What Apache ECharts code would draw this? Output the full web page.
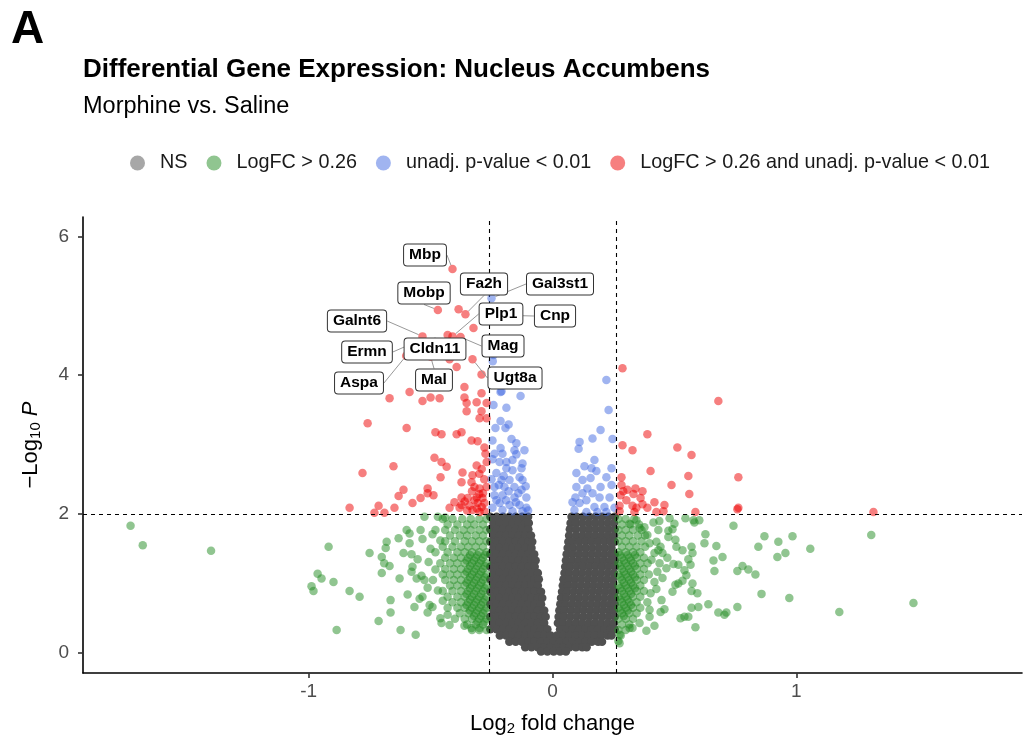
<!DOCTYPE html>
<html>
<head>
<meta charset="utf-8">
<script src="https://cdn.jsdelivr.net/npm/echarts@6/dist/echarts.min.js"></script>
<style>
  html, body { margin: 0; padding: 0; background: #fff; }
  #chart { width: 1028px; height: 745px; }
</style>
</head>
<body>
<div id="chart"></div>
<script>
// 阈值与刻度
const fcCutoff = 0.26
const pCutoff = 2
const xTicks = [-1, 0, 1]
const yTicks = [0, 2, 4, 6]

// NS 点：按行记录 [-log10 p, [log2FC ...]]
const greyRows = [
  [1.96, [-0.255, -0.229, -0.203, -0.177, -0.151, -0.125, -0.1, 0.078, 0.099, 0.125, 0.151, 0.177, 0.203, 0.229, 0.255]],
  [1.87, [-0.242, -0.216, -0.19, -0.164, -0.138, -0.112, -0.097, 0.074, 0.096, 0.122, 0.148, 0.174, 0.2, 0.226, 0.252]],
  [1.78, [-0.255, -0.229, -0.203, -0.177, -0.151, -0.125, -0.099, 0.071, 0.097, 0.125, 0.151, 0.177, 0.203, 0.229, 0.255]],
  [1.69, [-0.242, -0.216, -0.19, -0.164, -0.138, -0.112, -0.088, 0.068, 0.096, 0.122, 0.148, 0.174, 0.2, 0.226, 0.252]],
  [1.6, [-0.255, -0.229, -0.203, -0.177, -0.151, -0.125, -0.099, -0.083, 0.065, 0.083, 0.109, 0.135, 0.161, 0.187, 0.213, 0.239, 0.255]],
  [1.51, [-0.242, -0.216, -0.19, -0.164, -0.138, -0.112, -0.086, 0.062, 0.086, 0.112, 0.138, 0.164, 0.19, 0.216, 0.242]],
  [1.42, [-0.255, -0.229, -0.203, -0.177, -0.151, -0.125, -0.099, -0.075, 0.058, 0.083, 0.109, 0.135, 0.161, 0.187, 0.213, 0.239, 0.255]],
  [1.33, [-0.242, -0.216, -0.19, -0.164, -0.138, -0.112, -0.086, -0.069, 0.055, 0.08, 0.106, 0.132, 0.158, 0.184, 0.21, 0.236, 0.255]],
  [1.24, [-0.255, -0.229, -0.203, -0.177, -0.151, -0.125, -0.099, -0.073, 0.052, 0.073, 0.099, 0.125, 0.151, 0.177, 0.203, 0.229, 0.255]],
  [1.15, [-0.242, -0.216, -0.19, -0.164, -0.138, -0.112, -0.086, -0.06, 0.049, 0.07, 0.096, 0.122, 0.148, 0.174, 0.2, 0.226, 0.252]],
  [1.06, [-0.255, -0.229, -0.203, -0.177, -0.151, -0.125, -0.099, -0.073, -0.056, 0.045, 0.068, 0.093, 0.119, 0.145, 0.171, 0.197, 0.223, 0.249]],
  [0.97, [-0.242, -0.216, -0.19, -0.164, -0.138, -0.112, -0.086, -0.06, 0.042, 0.064, 0.09, 0.116, 0.142, 0.168, 0.194, 0.22, 0.246]],
  [0.88, [-0.255, -0.229, -0.203, -0.177, -0.151, -0.125, -0.099, -0.073, -0.047, 0.039, 0.06, 0.086, 0.112, 0.138, 0.164, 0.19, 0.216, 0.242, 0.256]],
  [0.79, [-0.242, -0.216, -0.19, -0.164, -0.138, -0.112, -0.086, -0.06, -0.042, 0.035, 0.057, 0.083, 0.109, 0.135, 0.161, 0.187, 0.213, 0.239, 0.255]],
  [0.7, [-0.255, -0.229, -0.203, -0.177, -0.151, -0.125, -0.099, -0.073, -0.047, 0.032, 0.054, 0.08, 0.106, 0.132, 0.158, 0.184, 0.21, 0.236, 0.255]],
  [0.61, [-0.242, -0.216, -0.19, -0.164, -0.138, -0.112, -0.086, -0.06, -0.034, 0.028, 0.05, 0.076, 0.102, 0.128, 0.154, 0.18, 0.206, 0.232, 0.252]],
  [0.52, [-0.255, -0.229, -0.203, -0.177, -0.151, -0.125, -0.099, -0.073, -0.047, -0.028, 0.025, 0.047, 0.073, 0.099, 0.125, 0.151, 0.177, 0.203, 0.229, 0.255]],
  [0.43, [-0.242, -0.216, -0.19, -0.164, -0.138, -0.112, -0.086, -0.06, -0.034, 0.022, 0.044, 0.07, 0.096, 0.122, 0.148, 0.174, 0.2, 0.226, 0.252]],
  [0.34, [-0.255, -0.229, -0.203, -0.177, -0.151, -0.125, -0.099, -0.073, -0.047, -0.021, 0.031, 0.057, 0.083, 0.109, 0.135, 0.161, 0.187, 0.213, 0.239, 0.255]],
  [0.25, [-0.216, -0.19, -0.164, -0.138, -0.112, -0.086, -0.06, -0.034, -0.008, 0.018, 0.044, 0.07, 0.096, 0.122, 0.148, 0.174, 0.2, 0.226, 0.242]],
  [0.16, [-0.177, -0.151, -0.125, -0.099, -0.073, -0.047, -0.021, 0.005, 0.031, 0.057, 0.083, 0.109, 0.135, 0.161, 0.187, 0.203]],
  [0.08, [-0.112, -0.086, -0.06, -0.034, -0.008, 0.018, 0.044, 0.07, 0.096, 0.122, 0.14]],
  [0.02, [-0.047, -0.021, 0.005, 0.031, 0.055]]
]

// LogFC > 0.26：阈值线两侧的密集区（按行）
const greenRows = [
  [1.93, [-0.27, -0.3, -0.335, -0.37, -0.41, -0.45, 0.27, 0.3, 0.335]],
  [1.85, [-0.285, -0.32, -0.35, -0.39, -0.43, 0.285, 0.32, 0.355]],
  [1.77, [-0.27, -0.3, -0.335, -0.365, -0.4, -0.44, -0.48, 0.27, 0.3, 0.33, 0.365]],
  [1.69, [-0.285, -0.315, -0.35, -0.38, -0.42, 0.285, 0.315, 0.35, 0.38]],
  [1.61, [-0.27, -0.3, -0.33, -0.36, -0.4, -0.44, 0.27, 0.3, 0.33, 0.365]],
  [1.53, [-0.285, -0.315, -0.345, -0.375, -0.41, -0.45, 0.285, 0.315, 0.345, 0.38]],
  [1.45, [-0.27, -0.3, -0.33, -0.36, -0.39, -0.43, 0.27, 0.3, 0.33, 0.36]],
  [1.41, [-0.278, -0.308, -0.338, 0.278, 0.308, 0.338]],
  [1.37, [-0.285, -0.315, -0.345, -0.375, -0.405, -0.44, 0.285, 0.315, 0.345, 0.375]],
  [1.33, [-0.292, -0.322, -0.352, 0.292, 0.322]],
  [1.29, [-0.27, -0.3, -0.33, -0.36, -0.39, -0.42, -0.46, 0.27, 0.3, 0.33, 0.36, 0.39]],
  [1.25, [-0.278, -0.308, -0.338, 0.278, 0.308, 0.338]],
  [1.21, [-0.285, -0.315, -0.345, -0.375, -0.405, -0.44, 0.285, 0.315, 0.345, 0.375]],
  [1.17, [-0.292, -0.322, -0.352, 0.292, 0.322]],
  [1.13, [-0.27, -0.3, -0.33, -0.36, -0.39, -0.42, -0.45, 0.27, 0.3, 0.33, 0.36, 0.395]],
  [1.09, [-0.278, -0.308, -0.338, 0.278, 0.308, 0.338]],
  [1.05, [-0.285, -0.315, -0.345, -0.375, -0.405, -0.44, 0.285, 0.315, 0.345, 0.375]],
  [1.01, [-0.292, -0.322, -0.352, 0.292, 0.322]],
  [0.97, [-0.27, -0.3, -0.33, -0.36, -0.39, -0.42, 0.27, 0.3, 0.33, 0.36]],
  [0.93, [-0.278, -0.308, -0.338, 0.278, 0.308, 0.338]],
  [0.89, [-0.285, -0.315, -0.345, -0.375, -0.41, -0.45, 0.285, 0.315, 0.345, 0.375]],
  [0.85, [-0.292, -0.322, -0.352, 0.292, 0.322]],
  [0.81, [-0.27, -0.3, -0.33, -0.36, -0.39, -0.43, 0.27, 0.3, 0.33, 0.36]],
  [0.77, [-0.278, -0.308, -0.338, 0.278, 0.308]],
  [0.73, [-0.285, -0.315, -0.345, -0.375, -0.41, 0.285, 0.315, 0.345]],
  [0.69, [-0.292, -0.322, -0.352, 0.292, 0.322]],
  [0.65, [-0.27, -0.3, -0.33, -0.36, -0.39, -0.43, 0.27, 0.3, 0.33, 0.36]],
  [0.61, [-0.278, -0.308, -0.338, 0.278, 0.308]],
  [0.57, [-0.285, -0.315, -0.345, -0.38, 0.285, 0.315, 0.345]],
  [0.53, [-0.292, -0.322, 0.292]],
  [0.49, [-0.27, -0.3, -0.33, -0.36, -0.4, 0.27, 0.3, 0.33]],
  [0.45, [-0.278, -0.308]],
  [0.41, [-0.285, -0.315, -0.35, 0.285, 0.315]],
  [0.33, [-0.27, -0.3, -0.33, 0.27, 0.3]],
  [0.25, [0.28]],
  [0.17, [0.27]]
]

// LogFC > 0.26：散在点 [log2FC, -log10 p]
const greenScatter = [
  [-1.73, 1.83], [-1.68, 1.55], [-1.4, 1.47], [-0.918, 1.53], [-0.75, 1.44], [-0.963, 1.14], [-0.947, 1.07],
  [-0.988, 0.96], [-0.98, 0.89], [-0.898, 1.02], [-0.832, 0.89], [-0.791, 0.81], [-0.885, 0.33], [-0.713, 0.46],
  [-0.623, 0.33], [-0.561, 0.26], [-0.664, 0.76], [-0.664, 0.58], [-0.594, 0.84], [-0.7, 1.15], [-0.627, 1.07],
  [-0.68, 1.6], [-0.684, 1.51], [-0.7, 1.38], [-0.69, 1.29], [-0.668, 1.25], [-0.631, 1.65], [-0.598, 1.77],
  [-0.586, 1.72], [-0.611, 1.44], [-0.578, 1.42], [-0.586, 1.58], [-0.553, 1.35], [-0.574, 1.24], [-0.578, 1.17],
  [-0.557, 1.07], [-0.525, 1.96], [-0.541, 1.77], [-0.533, 1.64], [-0.492, 1.71], [-0.508, 1.31], [-0.537, 1.11],
  [-0.525, 1.05], [-0.512, 0.94], [-0.533, 0.81], [-0.545, 0.78], [-0.566, 0.66], [-0.512, 0.58], [-0.504, 0.69],
  [-0.492, 0.66], [-0.47, 1.96], [-0.44, 1.95], [-0.5, 1.5], [-0.48, 1.2], [-0.47, 0.9], [-0.46, 0.5],
  [-0.455, 0.43], [-0.422, 0.4], [-0.361, 0.39], [-0.332, 0.36], [-0.299, 0.36], [-0.48, 1.45], [-0.46, 1.62],
  [-0.49, 1.05], [-0.45, 0.75], [-0.43, 0.55],
  [0.742, 1.83], [0.627, 1.71], [0.623, 1.58], [0.672, 1.54], [0.869, 1.68], [0.844, 1.53], [0.926, 1.6],
  [0.984, 1.68], [1.057, 1.5], [0.955, 1.44], [0.922, 1.38], [1.307, 1.7], [0.697, 1.38], [0.66, 1.33],
  [0.664, 1.18], [0.758, 1.18], [0.779, 1.25], [0.803, 1.2], [0.832, 1.13], [0.857, 0.85], [0.971, 0.79],
  [1.176, 0.59], [1.48, 0.72], [0.758, 0.66], [0.639, 0.7], [0.68, 0.58], [0.705, 0.55], [0.713, 0.58],
  [0.586, 0.37], [0.598, 0.66], [0.57, 0.65], [0.557, 0.52], [0.541, 0.52], [0.525, 0.5], [0.418, 0.39],
  [0.385, 0.32], [0.459, 0.63], [0.443, 0.59], [0.594, 0.86], [0.57, 0.89], [0.574, 1.0], [0.516, 1.0],
  [0.549, 1.12], [0.492, 0.88], [0.566, 1.27], [0.557, 1.35], [0.57, 1.53], [0.574, 1.44], [0.533, 1.48],
  [0.504, 1.63], [0.516, 1.27], [0.541, 1.19], [0.533, 1.04], [0.504, 0.98], [0.467, 1.22], [0.471, 1.37],
  [0.496, 1.28], [0.451, 1.44], [0.443, 1.53], [0.475, 1.67], [0.508, 1.53], [0.492, 1.78], [0.475, 1.76],
  [0.434, 1.77], [0.414, 1.88], [0.438, 1.9], [0.48, 1.94], [0.5, 1.86], [0.545, 1.94], [0.578, 1.91],
  [0.602, 1.91], [0.582, 1.88], [0.344, 1.91], [0.316, 1.86], [0.357, 1.8], [0.377, 1.81], [0.389, 1.7],
  [0.426, 1.6], [0.398, 1.58], [0.434, 1.48], [0.418, 1.44], [0.406, 1.34], [0.439, 1.29], [0.43, 1.17],
  [0.451, 1.08], [0.418, 1.02], [0.426, 0.92], [0.402, 0.86], [0.389, 0.73], [0.447, 0.76], [0.398, 0.62],
  [0.398, 0.52], [0.357, 0.43], [0.328, 0.36], [0.275, 0.14], [0.275, 0.26], [0.316, 0.36]
]

// unadj. p-value < 0.01
const bluePoints = [
  [-0.209, 3.77], [-0.131, 3.7], [-0.242, 3.57], [-0.213, 3.34], [-0.18, 3.29], [-0.193, 3.24], [-0.234, 3.24],
  [-0.168, 3.08], [-0.148, 3.02], [-0.115, 2.92], [-0.156, 2.92], [-0.238, 2.87], [-0.205, 2.87], [-0.246, 2.79],
  [-0.217, 2.75], [-0.189, 2.75], [-0.164, 2.78], [-0.123, 2.73], [-0.189, 2.66], [-0.164, 2.63], [-0.23, 2.59],
  [-0.135, 2.53], [-0.123, 2.49], [-0.176, 2.49], [-0.209, 2.49], [-0.238, 2.39], [-0.197, 2.39], [-0.156, 2.39],
  [-0.127, 2.35], [-0.107, 2.24], [-0.156, 2.24], [-0.205, 2.27], [-0.238, 2.27], [-0.217, 2.16], [-0.176, 2.13],
  [-0.135, 2.13], [-0.107, 2.09], [-0.246, 2.09], [-0.205, 2.06], [-0.164, 2.04], [-0.123, 2.04], [-0.213, 2.95],
  [-0.246, 3.06], [-0.148, 2.86], [-0.127, 2.66], [-0.242, 4.29], [-0.213, 3.76], [-0.189, 3.53], [-0.245, 4.2],
  [-0.23, 2.2], [-0.19, 2.2], [-0.15, 2.17], [-0.1, 2.05], [-0.14, 2.3], [-0.18, 2.33], [-0.22, 2.42],
  [-0.25, 2.5], [-0.2, 2.55], [-0.11, 2.4],
  [0.221, 3.93], [0.23, 3.5], [0.197, 3.21], [0.164, 3.09], [0.111, 3.04], [0.107, 2.94], [0.246, 3.08],
  [0.172, 2.78], [0.131, 2.69], [0.098, 2.59], [0.16, 2.66], [0.18, 2.62], [0.242, 2.66], [0.221, 2.53],
  [0.156, 2.52], [0.123, 2.49], [0.098, 2.39], [0.143, 2.37], [0.197, 2.39], [0.242, 2.42], [0.164, 2.3],
  [0.123, 2.3], [0.094, 2.24], [0.193, 2.24], [0.234, 2.24], [0.139, 2.2], [0.082, 2.17], [0.111, 2.16],
  [0.172, 2.1], [0.213, 2.1], [0.254, 2.09], [0.09, 2.06], [0.139, 2.03], [0.184, 2.03], [0.221, 2.03]
]

// LogFC > 0.26 and unadj. p-value < 0.01
const redPoints = [
  [-0.385, 4.95], [-0.324, 4.68], [-0.43, 4.58], [-0.422, 4.23], [-0.393, 4.12], [-0.291, 4.01], [-0.361, 3.83],
  [-0.586, 3.76], [-0.668, 3.67], [-0.533, 3.63], [-0.5, 3.68], [-0.463, 3.67], [-0.361, 3.68], [-0.352, 3.6],
  [-0.291, 3.74], [-0.311, 3.61], [-0.27, 3.6], [-0.352, 3.48], [-0.291, 3.48], [-0.299, 3.38], [-0.27, 3.38],
  [-0.758, 3.31], [-0.598, 3.24], [-0.48, 3.18], [-0.455, 3.15], [-0.393, 3.15], [-0.373, 3.18], [-0.332, 3.06],
  [-0.307, 3.05], [-0.279, 2.96], [-0.275, 2.87], [-0.484, 2.81], [-0.455, 2.75], [-0.434, 2.68], [-0.27, 2.75],
  [-0.311, 2.7], [-0.779, 2.59], [-0.652, 2.69], [-0.369, 2.6], [-0.459, 2.53], [-0.328, 2.56], [-0.373, 2.46],
  [-0.332, 2.46], [-0.32, 2.39], [-0.299, 2.37], [-0.27, 2.39], [-0.611, 2.35], [-0.631, 2.26], [-0.512, 2.37],
  [-0.488, 2.27], [-0.512, 2.3], [-0.541, 2.23], [-0.574, 2.16], [-0.373, 2.24], [-0.348, 2.23], [-0.311, 2.24],
  [-0.287, 2.23], [-0.402, 2.17], [-0.373, 2.13], [-0.34, 2.12], [-0.307, 2.16], [-0.279, 2.16], [-0.422, 2.09],
  [-0.381, 2.09], [-0.328, 2.06], [-0.299, 2.03], [-0.279, 2.04], [-0.832, 2.09], [-0.713, 2.12], [-0.648, 2.09],
  [-0.73, 2.02], [-0.689, 2.02], [-0.29, 2.1], [-0.31, 2.08], [-0.35, 2.05], [-0.36, 2.18], [-0.32, 2.2],
  [-0.285, 2.3], [-0.3, 2.29], [-0.33, 2.33], [-0.28, 2.5], [-0.3, 2.58], [-0.29, 2.65],
  [0.287, 4.1], [0.68, 3.63], [0.389, 3.15], [0.287, 2.99], [0.328, 2.92], [0.512, 2.96], [0.57, 2.85],
  [0.402, 2.62], [0.283, 2.53], [0.557, 2.55], [0.762, 2.53], [0.283, 2.42], [0.307, 2.35], [0.34, 2.37],
  [0.369, 2.33], [0.488, 2.42], [0.279, 2.27], [0.332, 2.29], [0.361, 2.23], [0.561, 2.29], [0.275, 2.12],
  [0.303, 2.2], [0.328, 2.12], [0.369, 2.14], [0.389, 2.09], [0.418, 2.17], [0.459, 2.13], [0.426, 2.03],
  [0.455, 2.04], [0.336, 2.03], [0.344, 2.09], [0.586, 2.03], [0.758, 2.07], [0.762, 2.09], [1.316, 2.03],
  [0.275, 2.04], [0.29, 2.33]
]

// 标注的基因
const geneNames = ['Mbp', 'Mobp', 'Fa2h', 'Gal3st1', 'Plp1', 'Cnp', 'Galnt6', 'Mag', 'Cldn11', 'Ermn', 'Aspa', 'Mal', 'Ugt8a']
const geneLogFC = [-0.41, -0.47, -0.357, -0.25, -0.41, -0.15, -0.533, -0.377, -0.45, -0.58, -0.6, -0.5, -0.328]
const geneLogP = [5.53, 4.94, 4.88, 5.11, 4.56, 4.86, 4.56, 4.55, 4.42, 4.45, 4.28, 4.27, 4.23]

// 标签框中心位置（像素，布局用）
const geneBoxes = [[425, 255], [424, 293], [484, 284], [560, 284], [501, 314], [555, 316], [357, 321], [503, 346], [435, 349], [367, 352], [359, 383], [434, 380], [515, 378]]

const FONT = '"Liberation Sans", Arial, sans-serif'
const COLORS = { ns: '#4d4d4d', fc: '#228b22', p: '#4169e1', both: '#ee0000' }
const NAMES = ['NS', 'LogFC > 0.26', 'unadj. p-value < 0.01', 'LogFC > 0.26 and unadj. p-value < 0.01']

const fromRows = (rows) => {
  const pts = []
  rows.forEach(([y, xs]) => xs.forEach((x) => pts.push([x, y])))
  return pts
}

const myChart = echarts.init(document.getElementById('chart'))

const pointSeries = (name, data, color, opacity) => ({
  name,
  type: 'scatter',
  data,
  symbolSize: 8.5,
  itemStyle: { color, opacity },
  emphasis: { disabled: true },
  z: 2,
})

const option = {
  animation: false,
  backgroundColor: '#fff',
  textStyle: { fontFamily: FONT },
  title: [
    { text: 'A', left: 6, top: 2, textStyle: { fontSize: 46, fontWeight: 'bold', color: '#000', fontFamily: FONT } },
    { text: 'Differential Gene Expression: Nucleus Accumbens', left: 78, top: 52, textStyle: { fontSize: 26, fontWeight: 'bold', color: '#000', fontFamily: FONT } },
    { text: 'Morphine vs. Saline', left: 78, top: 90, textStyle: { fontSize: 23.5, fontWeight: 'normal', color: '#000', fontFamily: FONT } },
  ],
  legend: {
    top: 148,
    left: 125,
    icon: 'circle',
    itemWidth: 15,
    itemHeight: 15,
    itemGap: 19,
    textStyle: { fontSize: 19.8, color: '#1a1a1a', fontFamily: FONT, padding: [0, 0, 0, 10] },
    data: NAMES.map((n) => ({ name: n, itemStyle: { opacity: 0.5 } })),
  },
  grid: { left: 83, right: 6, top: 217, bottom: 72, outerBoundsMode: 'none' },
  xAxis: {
    type: 'value',
    min: -1.925,
    max: 1.925,
    name: '{a|Log}{s|2}{a| fold change}',
    nameLocation: 'middle',
    nameGap: 38,
    nameTextStyle: {
      rich: {
        a: { fontSize: 22, color: '#000', fontFamily: FONT },
        s: { fontSize: 15, color: '#000', fontFamily: FONT, padding: [10, 0, 0, 0] },
      },
    },
    splitLine: { show: false },
    axisLine: { onZero: false, lineStyle: { color: '#000', width: 1.6 } },
    axisTick: { customValues: xTicks, length: 5, lineStyle: { color: '#333', width: 1.6 } },
    axisLabel: { customValues: xTicks, fontSize: 19, color: '#4d4d4d', margin: 9, fontFamily: FONT },
  },
  yAxis: {
    type: 'value',
    min: -0.29,
    max: 6.28,
    name: '{a|\u2212Log}{s|10}{p| P}',
    nameLocation: 'middle',
    nameRotate: 90,
    nameGap: 40,
    nameTextStyle: {
      rich: {
        a: { fontSize: 22, color: '#000', fontFamily: FONT },
        s: { fontSize: 15, color: '#000', fontFamily: FONT, padding: [10, 0, 0, 0] },
        p: { fontSize: 22, color: '#000', fontFamily: FONT, fontStyle: 'italic' },
      },
    },
    splitLine: { show: false },
    axisLine: { show: true, onZero: false, lineStyle: { color: '#000', width: 1.6 } },
    axisTick: { show: true, customValues: yTicks, length: 5, lineStyle: { color: '#333', width: 1.6 } },
    axisLabel: { customValues: yTicks, fontSize: 19, color: '#4d4d4d', margin: 14, fontFamily: FONT },
  },
  series: [
    pointSeries(NAMES[0], fromRows(greyRows), '#505050', 1),
    pointSeries(NAMES[1], fromRows(greenRows).concat(greenScatter), COLORS.fc, 0.5),
    pointSeries(NAMES[2], bluePoints, COLORS.p, 0.5),
    pointSeries(NAMES[3], redPoints, COLORS.both, 0.5),
    {
      // 阈值虚线
      name: 'cutoffs',
      type: 'scatter',
      data: [],
      z: 3,
      markLine: {
        silent: true,
        symbol: 'none',
        label: { show: false },
        lineStyle: { color: '#000', width: 1.1, type: [4, 4] },
        data: [{ xAxis: -fcCutoff }, { xAxis: fcCutoff }, { yAxis: pCutoff }],
      },
    },
    {
      name: 'genes',
      type: 'scatter',
      z: 5,
      symbolSize: 8.5,
      data: geneNames.map((g, i) => ({ name: g, value: [geneLogFC[i], geneLogP[i]] })),
      itemStyle: {
        opacity: 1,
        color: (p) => (Math.abs(p.value[0]) > fcCutoff ? 'rgba(238,0,0,0.5)' : 'rgba(65,105,225,0.5)'),
      },
      emphasis: { disabled: true },
      label: {
        show: true,
        formatter: '{b}',
        fontSize: 15.5,
        fontWeight: 'bold',
        color: '#000',
        fontFamily: FONT,
        backgroundColor: '#fff',
        borderColor: '#333',
        borderWidth: 1,
        borderRadius: 3,
        padding: [3, 5, 2, 5],
      },
      labelLine: { show: true, lineStyle: { color: '#999', width: 1 } },
      labelLayout: (p) => {
        const b = geneBoxes[p.dataIndex]
        return { x: b[0], y: b[1], align: 'center', verticalAlign: 'middle' }
      },
    },
  ],
}

myChart.setOption(option)
</script>
</body>
</html>
